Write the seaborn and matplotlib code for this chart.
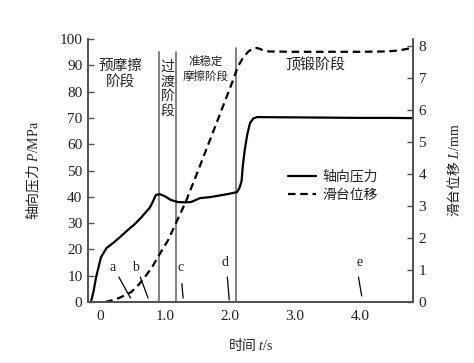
import matplotlib
matplotlib.use("Agg")
import matplotlib.pyplot as plt
import seaborn as sns
import pandas as pd

# ---- data ----
p_time = [-0.14, -0.10, -0.06, 0.015, 0.1, 0.2, 0.3, 0.43, 0.53, 0.63, 0.70, 0.77, 0.82,
          0.86, 0.92, 1.00, 1.09, 1.20, 1.30, 1.40, 1.54, 1.70, 1.89, 2.00, 2.11,
          2.15, 2.18, 2.20, 2.23, 2.27, 2.31, 2.36, 2.42, 3.0, 3.5, 4.0, 4.5, 4.82]
p_val = [0.0, 4.0, 9.5, 17.0, 20.5, 22.4, 24.5, 27.4, 29.5, 32.0, 34.0, 36.0, 38.5,
         40.7, 41.0, 40.2, 38.8, 38.0, 37.9, 38.0, 39.5, 39.9, 40.7, 41.2, 41.8,
         43.5, 46.0, 52.0, 58.0, 64.0, 68.0, 69.8, 70.3, 70.2, 70.1, 70.0, 70.0, 69.9]

l_time = [0.08, 0.20, 0.30, 0.48, 0.60, 0.69, 0.80, 0.89, 1.05, 1.20, 1.32, 1.50, 1.70,
          1.90, 2.05, 2.12, 2.20, 2.28, 2.35, 2.42, 2.50, 2.60, 3.0, 3.5, 4.0, 4.4,
          4.6, 4.75, 4.82]
l_val = [0.0, 0.06, 0.13, 0.31, 0.55, 0.78, 1.08, 1.40, 1.94, 2.60, 3.13, 4.05, 5.10,
         6.15, 6.94, 7.35, 7.62, 7.82, 7.92, 7.94, 7.88, 7.83, 7.82, 7.82, 7.82, 7.83,
         7.86, 7.92, 7.95]

stage_lines = [0.91, 1.17, 2.09]
stage_tops = [95, 95, 96.6]

marker_labels = ["a", "b", "c", "d", "e"]
marker_text_xy = [(0.20, 10.5), (0.54, 10.5), (1.24, 10.5), (1.93, 12.5), (4.0, 12.5)]
marker_line_start = [(0.29, 9.5), (0.62, 9.5), (1.26, 7.0), (1.96, 9.5), (3.98, 9.5)]
marker_line_end = [(0.47, 1.5), (0.74, 1.5), (1.28, 1.5), (1.99, 0.8), (4.03, 2.3)]

p_ticks = list(range(0, 101, 10))
l_ticks = list(range(0, 9))
t_ticks = [0, 1, 2, 3, 4]
t_tick_labels = ["0", "1.0", "2.0", "3.0", "4.0"]

df_p = pd.DataFrame({"t": p_time, "P": p_val})
df_l = pd.DataFrame({"t": l_time, "L": l_val})

# ---- style ----
sns.set_style("white")
plt.rcParams["font.family"] = ["Liberation Serif", "Noto Sans CJK SC", "DejaVu Sans"]
plt.rcParams["mathtext.fontset"] = "custom"
plt.rcParams["mathtext.rm"] = "Liberation Serif"
plt.rcParams["mathtext.it"] = "Liberation Serif:italic"

CJK = ["Noto Sans CJK SC", "DejaVu Sans"]
TXT = "#222222"
SPINE = "#505050"

fig = plt.figure(figsize=(4.74, 3.63), dpi=100)
ax = fig.add_axes([88 / 474, 1 - 302 / 363, (413 - 88) / 474, (302 - 39) / 363])
ax2 = ax.twinx()

sns.lineplot(data=df_p, x="t", y="P", ax=ax, color="black", lw=1.6,
             sort=False, estimator=None, label="轴向压力", legend=False)
sns.lineplot(data=df_l, x="t", y="L", ax=ax2, color="black", lw=1.6,
             sort=False, estimator=None, label="滑台位移", legend=False)
ax2.lines[0].set_dashes((3.4, 2.1))

for x, top in zip(stage_lines, stage_tops):
    ax.plot([x, x], [0, top], color="#777777", lw=1.3, zorder=1)

for lab, (tx, ty), (x0, y0), (x1, y1) in zip(marker_labels, marker_text_xy,
                                             marker_line_start, marker_line_end):
    ax.text(tx, ty, lab, fontsize=10, color=TXT, ha="center", va="bottom",
            family="Liberation Serif")
    ax.plot([x0, x1], [y0, y1], color="black", lw=0.9)

ax.text(0.32, 86.7, "预摩擦\n阶段", family=CJK, fontsize=10.5, ha="center",
        va="center", color=TXT, linespacing=1.15)
ax.text(1.04, 81, "过\n渡\n阶\n段", family=CJK, fontsize=10, ha="center",
        va="center", color=TXT, linespacing=1.05)
ax.text(1.63, 88.4, "准稳定\n摩擦阶段", family=CJK, fontsize=8.3, ha="center",
        va="center", color=TXT, linespacing=1.15)
ax.text(3.31, 90, "顶锻阶段", family=CJK, fontsize=10.8, ha="center",
        va="center", color=TXT)

ax.set_xlim(-0.185, 4.82)
ax.set_ylim(0, 100)
ax2.set_ylim(0, 8.22)
ax.set_xticks(t_ticks)
ax.set_xticklabels(t_tick_labels)
ax.set_yticks(p_ticks)
ax2.set_yticks(l_ticks)

for a in (ax, ax2):
    a.tick_params(direction="in", length=4, width=1.0, color=SPINE,
                  labelsize=11, labelcolor=TXT, pad=4)
    a.spines["top"].set_visible(False)
    for s in ("left", "right", "bottom"):
        a.spines[s].set_color(SPINE)
        a.spines[s].set_linewidth(1.2)
ax.tick_params(axis="x", pad=6)

ax.set_xlabel("时间 $t\\mathrm{/s}$", family=CJK, fontsize=10, color=TXT, labelpad=9)
ax.set_ylabel("轴向压力 $P\\mathrm{/MPa}$", family=CJK, fontsize=10, color=TXT, labelpad=13)
ax2.set_ylabel("滑台位移 $L\\mathrm{/mm}$", family=CJK, fontsize=10, color=TXT, labelpad=14)

h1, l1 = ax.get_legend_handles_labels()
h2, l2 = ax2.get_legend_handles_labels()
leg = ax.legend(h1 + h2, l1 + l2, loc="upper left", bbox_to_anchor=(0.578, 0.55),
                frameon=False, handlelength=2.0, handletextpad=0.45, labelspacing=0.3,
                prop={"family": CJK, "size": 10})
for t in leg.get_texts():
    t.set_color(TXT)

fig.savefig("out.png", dpi=100)
